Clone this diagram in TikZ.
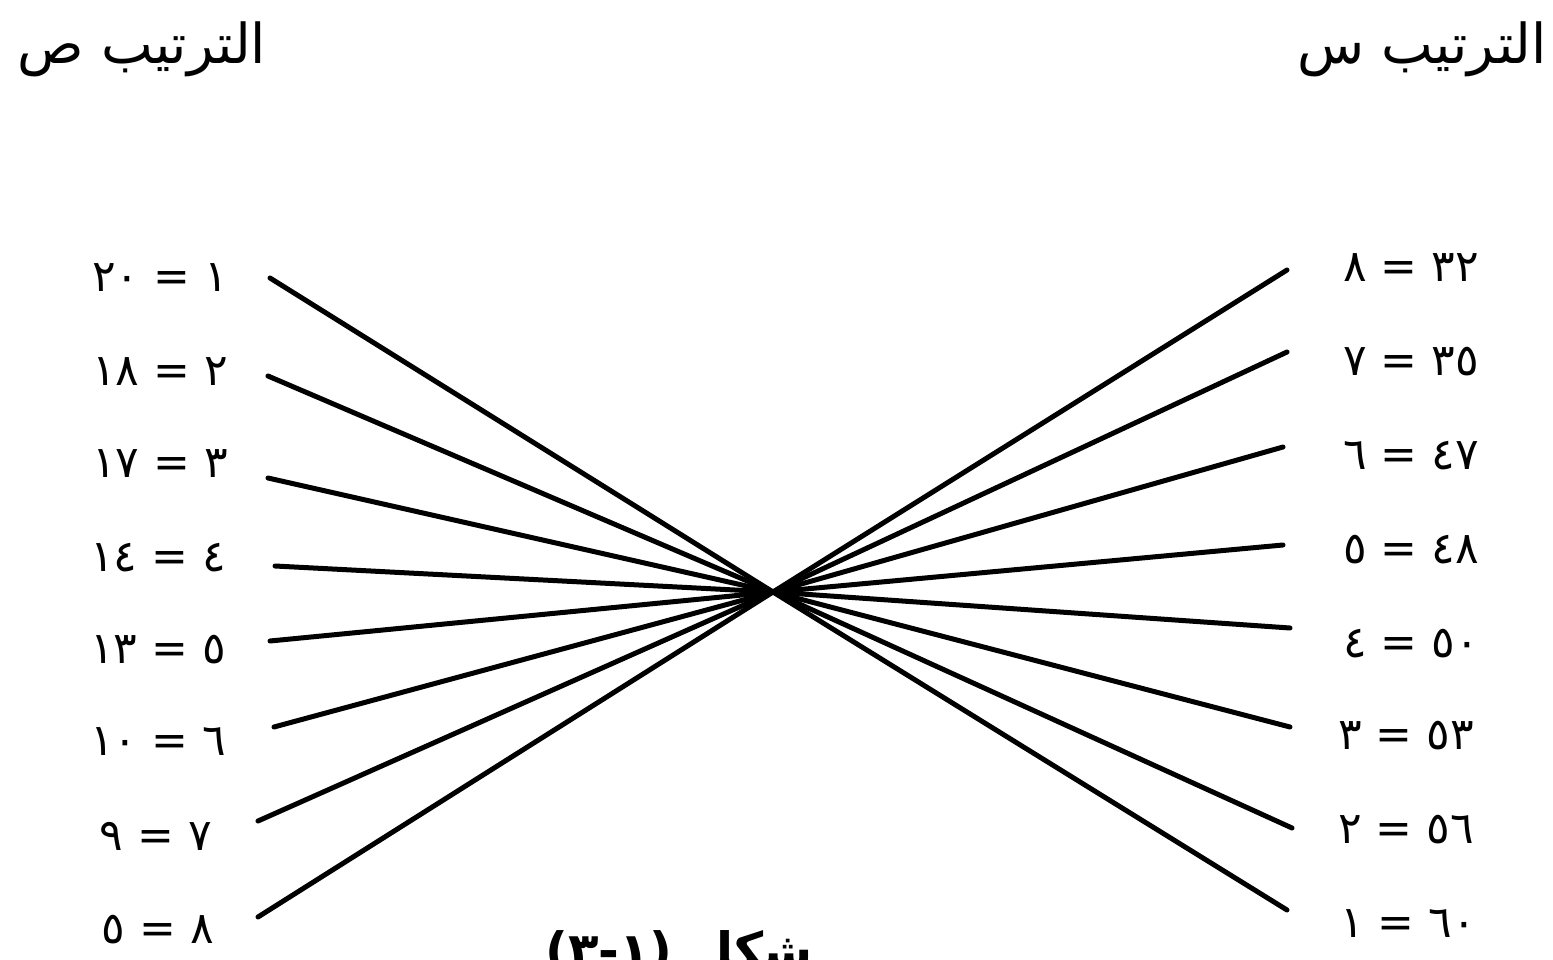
\documentclass[tikz,border=0pt]{standalone}
\usepackage{fontspec}
\newfontfamily\arabicfont[Script=Arabic]{DejaVu Sans}
\TeXXeTstate=1
\begin{document}
\begin{tikzpicture}[x=1pt,y=-1pt,
  lbl/.style={font=\arabicfont\fontsize{44}{46}\selectfont,inner sep=0pt},
  hdr/.style={font=\arabicfont\fontsize{55}{58}\selectfont,inner sep=0pt},
  capt/.style={font=\arabicfont\bfseries\fontsize{50}{54}\selectfont,inner sep=0pt},
  ln/.style={line width=5pt,line cap=round}]
\useasboundingbox (0,0) rectangle (1553,960);
\clip (0,0) rectangle (1553,960);
% headers
\node[hdr,anchor=north west] (hy) at (17,22) {\beginR الترتيب ص\endR};
\node[hdr,anchor=north east] (hx) at (1547,22) {\beginR الترتيب س\endR};
% left labels
\node[lbl,anchor=east] (ty1) at (228,278) {\beginR ١ = ٢٠\endR};
\node[lbl,anchor=east] (ty2) at (228,372) {\beginR ٢ = ١٨\endR};
\node[lbl,anchor=east] (ty3) at (228,464) {\beginR ٣ = ١٧\endR};
\node[lbl,anchor=east] (ty4) at (226,558) {\beginR ٤ = ١٤\endR};
\node[lbl,anchor=east] (ty5) at (226,650) {\beginR ٥ = ١٣\endR};
\node[lbl,anchor=east] (ty6) at (226,742) {\beginR ٦ = ١٠\endR};
\node[lbl,anchor=east] (ty7) at (212,836) {\beginR ٧ = ٩\endR};
\node[lbl,anchor=east] (ty8) at (214,930) {\beginR ٨ = ٥\endR};
% right labels
\node[lbl,anchor=west] (tx8) at (1343,268) {\beginR ٣٢ = ٨\endR};
\node[lbl,anchor=west] (tx7) at (1343,362) {\beginR ٣٥ = ٧\endR};
\node[lbl,anchor=west] (tx6) at (1343,456) {\beginR ٤٧ = ٦\endR};
\node[lbl,anchor=west] (tx5) at (1343,550) {\beginR ٤٨ = ٥\endR};
\node[lbl,anchor=west] (tx4) at (1343,644) {\beginR ٥٠ = ٤\endR};
\node[lbl,anchor=west] (tx3) at (1338,736) {\beginR ٥٣ = ٣\endR};
\node[lbl,anchor=west] (tx2) at (1338,830) {\beginR ٥٦ = ٢\endR};
\node[lbl,anchor=west] (tx1) at (1340,924) {\beginR ٦٠ = ١\endR};
% line ends
\coordinate (c) at (773,592);
\coordinate (L1) at (270,278);
\coordinate (L2) at (268,376);
\coordinate (L3) at (268,478);
\coordinate (L4) at (275,566);
\coordinate (L5) at (270,641);
\coordinate (L6) at (274,727);
\coordinate (L7) at (258,821);
\coordinate (L8) at (258,917);
\coordinate (R8) at (1287,270);
\coordinate (R7) at (1287,352);
\coordinate (R6) at (1283,447);
\coordinate (R5) at (1283,545);
\coordinate (R4) at (1290,628);
\coordinate (R3) at (1290,727);
\coordinate (R2) at (1292,828);
\coordinate (R1) at (1287,910);
\foreach \i in {1,...,8}{\draw[ln] (L\i) -- (c) -- (R\i);}
% caption (cut off at bottom, as in the reference)
\node[capt,anchor=north west] (fig) at (545,930) {\beginR شكل (١-٣)\endR};
\end{tikzpicture}
\end{document}
